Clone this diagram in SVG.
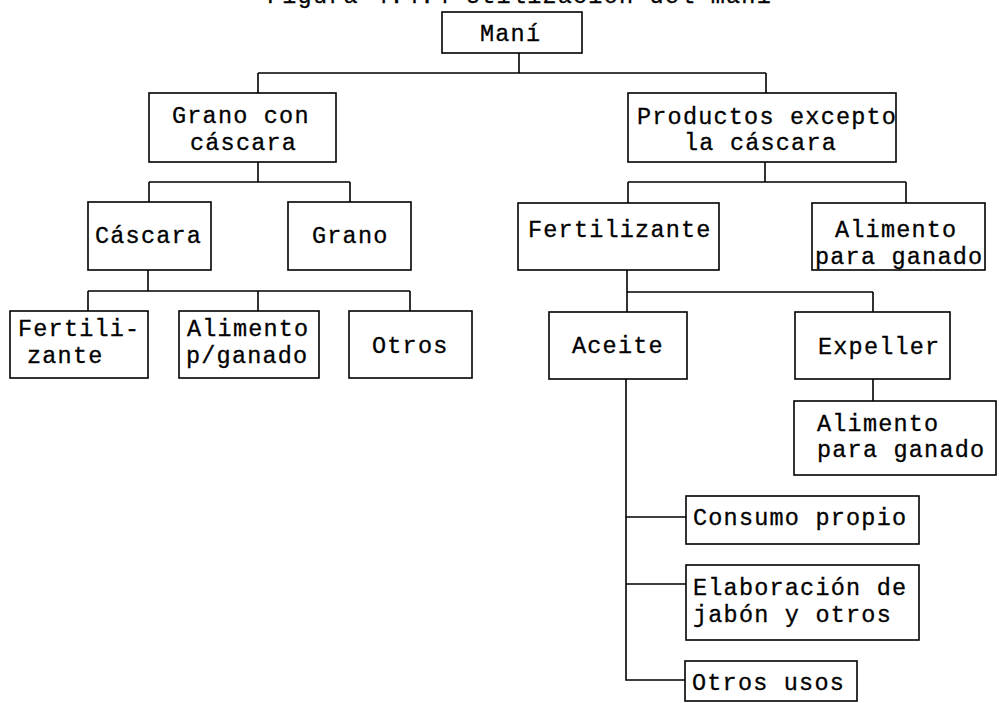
<svg xmlns="http://www.w3.org/2000/svg" width="999" height="703" viewBox="0 0 999 703">
<style>
  .bg { fill: #ffffff; }
  .box { fill: #ffffff; stroke: #000000; stroke-width: 1.6; }
  .t { font-family: "Liberation Mono", "Courier New", monospace; font-size: 23.5px; letter-spacing: 1.2px; fill: #000000; stroke: #000000; stroke-width: 0.3; }
  .ln { fill: none; stroke: #000000; stroke-width: 1.6; }
</style>
<rect class="bg" x="0" y="0" width="999" height="703"/>
<text class="t" x="267" y="3">Figura  4.4.4  Utilización del maní</text>

<g id="connectors">
  <path class="ln" d="M519 53 V73 M258 73 H766 M258 73 V93 M766 73 V93"/>
  <path class="ln" d="M258 162 V182 M149 182 H350 M149 182 V202 M350 182 V202"/>
  <path class="ln" d="M148 270 V291 M88 291 H410 M88 291 V311 M258 291 V311 M410 291 V311"/>
  <path class="ln" d="M765 162 V182 M628 182 H906 M628 182 V203 M906 182 V203"/>
  <path class="ln" d="M627 270 V292 M627 292 H873 M627 292 V312 M873 292 V312"/>
  <path class="ln" d="M873 379 V401"/>
  <path class="ln" d="M626 379 V680 H685 M626 517 H686 M626 584 H686"/>
</g>

<g id="n-mani">
  <rect class="box" x="442" y="12" width="140" height="41"/>
  <text class="t" x="480" y="41">Maní</text>
</g>
<g id="n-grano-con-cascara">
  <rect class="box" x="149" y="93" width="187" height="69"/>
  <text class="t" x="172" y="123">Grano con</text>
  <text class="t" x="190" y="150">cáscara</text>
</g>
<g id="n-productos">
  <rect class="box" x="628" y="93" width="268" height="69"/>
  <text class="t" x="637" y="124">Productos excepto</text>
  <text class="t" x="684" y="150">la cáscara</text>
</g>
<g id="n-cascara">
  <rect class="box" x="88" y="202" width="123" height="68"/>
  <text class="t" x="95" y="243">Cáscara</text>
</g>
<g id="n-grano">
  <rect class="box" x="288" y="202" width="123" height="68"/>
  <text class="t" x="312" y="243">Grano</text>
</g>
<g id="n-fertilizante-cascara">
  <rect class="box" x="10" y="311" width="138" height="67"/>
  <text class="t" x="18" y="336">Fertili-</text>
  <text class="t" x="27" y="363">zante</text>
</g>
<g id="n-alimento-pganado">
  <rect class="box" x="179" y="311" width="140" height="67"/>
  <text class="t" x="187" y="336">Alimento</text>
  <text class="t" x="186" y="363">p/ganado</text>
</g>
<g id="n-otros">
  <rect class="box" x="349" y="311" width="123" height="67"/>
  <text class="t" x="372" y="353">Otros</text>
</g>
<g id="n-fertilizante">
  <rect class="box" x="518" y="203" width="201" height="67"/>
  <text class="t" x="528" y="237">Fertilizante</text>
</g>
<g id="n-alimento-ganado-1">
  <rect class="box" x="812" y="203" width="173" height="67"/>
  <text class="t" x="835" y="237">Alimento</text>
  <text class="t" x="815" y="264">para ganado</text>
</g>
<g id="n-aceite">
  <rect class="box" x="549" y="312" width="138" height="67"/>
  <text class="t" x="572" y="353">Aceite</text>
</g>
<g id="n-expeller">
  <rect class="box" x="795" y="312" width="155" height="67"/>
  <text class="t" x="818" y="354">Expeller</text>
</g>
<g id="n-alimento-ganado-2">
  <rect class="box" x="794" y="401" width="202" height="74"/>
  <text class="t" x="817" y="431">Alimento</text>
  <text class="t" x="817" y="457">para ganado</text>
</g>
<g id="n-consumo">
  <rect class="box" x="686" y="496" width="233" height="48"/>
  <text class="t" x="693" y="525">Consumo propio</text>
</g>
<g id="n-elaboracion">
  <rect class="box" x="686" y="565" width="233" height="75"/>
  <text class="t" x="693" y="595">Elaboración de</text>
  <text class="t" x="693" y="622">jabón y otros</text>
</g>
<g id="n-otros-usos">
  <rect class="box" x="685" y="661" width="172" height="40"/>
  <text class="t" x="692" y="690">Otros usos</text>
</g>
</svg>
